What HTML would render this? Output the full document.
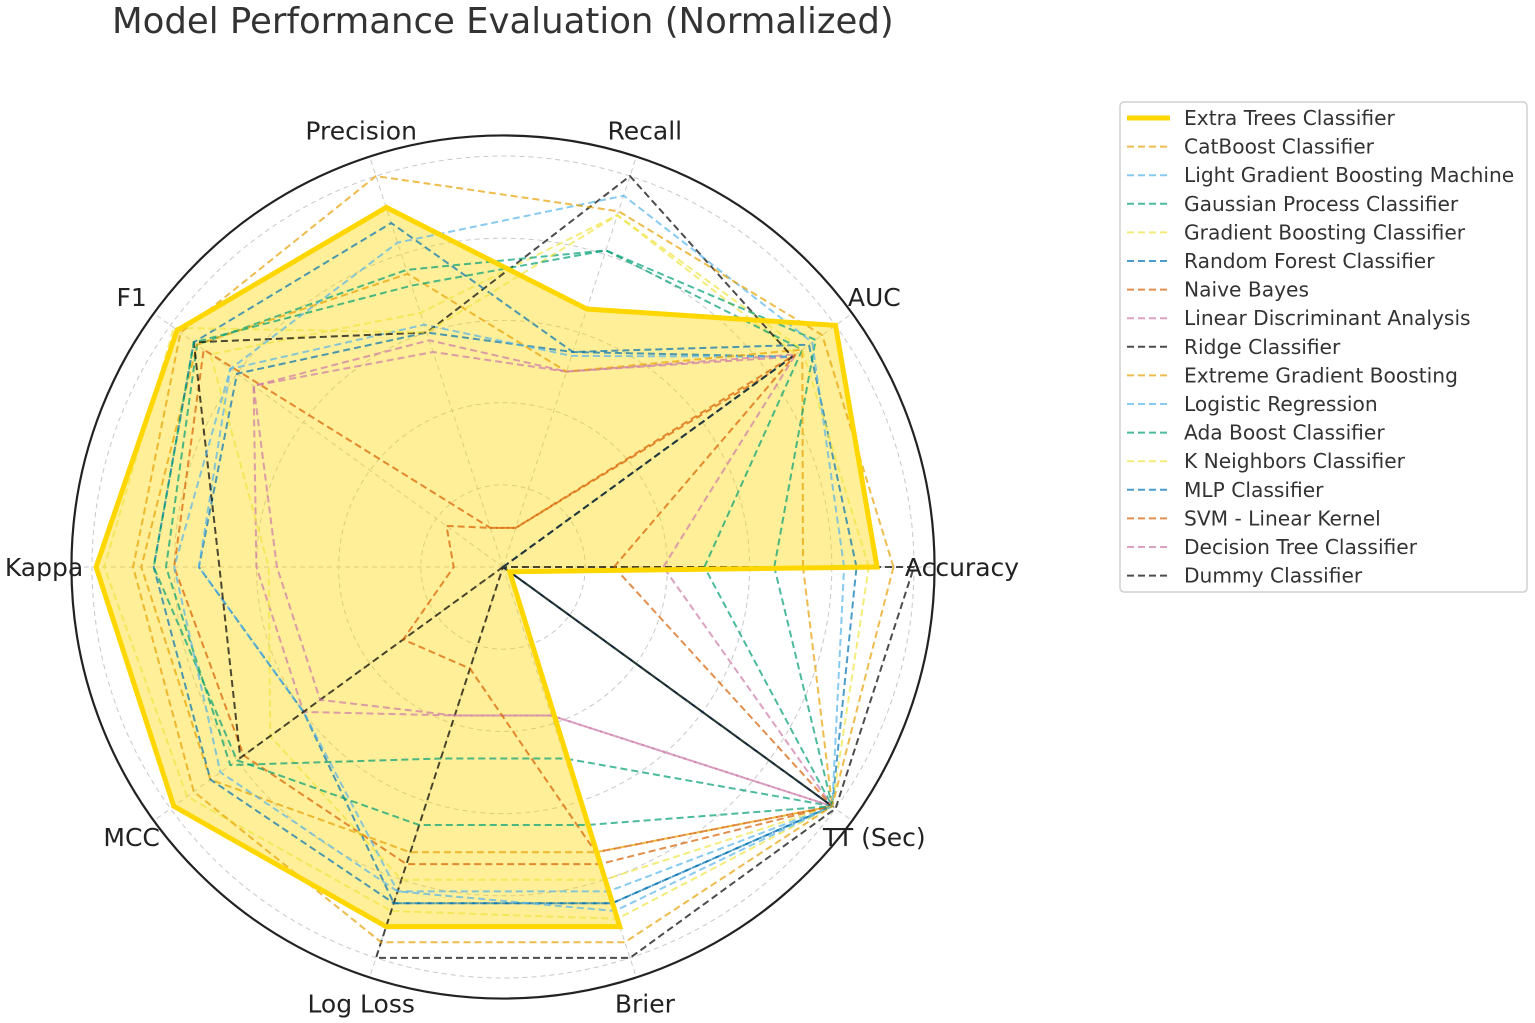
<!DOCTYPE html>
<html><head><meta charset="utf-8"><style>
body{margin:0;background:#fff;}
svg{display:block;font-family:"DejaVu Sans","Liberation Sans",sans-serif;}
</style></head><body>
<svg id="chart" width="1535" height="1023" viewBox="0 0 1535 1023" xmlns="http://www.w3.org/2000/svg">
<text x="112" y="33" font-size="35.5" fill="#333">Model Performance Evaluation (Normalized)</text>
<g id="grid"></g>
<g id="series"></g>
<g id="labels"></g>
<g id="legend"></g>
</svg>
<script>
const axes = ["Accuracy","AUC","Recall","Precision","F1","Kappa","MCC","Log Loss","Brier","TT (Sec)"];
const gridTicks = [0.2,0.4,0.6,0.8,1.0];
const modelNames = ["Extra Trees Classifier","CatBoost Classifier","Light Gradient Boosting Machine","Gaussian Process Classifier","Gradient Boosting Classifier","Random Forest Classifier","Naive Bayes","Linear Discriminant Analysis","Ridge Classifier","Extreme Gradient Boosting","Logistic Regression","Ada Boost Classifier","K Neighbors Classifier","MLP Classifier","SVM - Linear Kernel","Decision Tree Classifier","Dummy Classifier"];
const modelColors = ["#FFD700","#E69F00","#56B4E9","#009E73","#F0E442","#0072B2","#D55E00","#CC79A7","#000000","#E69F00","#56B4E9","#009E73","#F0E442","#0072B2","#D55E00","#CC79A7","#000000"];
const vExtraTrees = [0.91,1.0,0.66,0.92,0.98,0.99,0.99,0.92,0.92,0.02];
const vCatBoost = [0.95,0.96,0.91,1.0,0.97,0.9,0.93,0.96,0.96,0.99];
const vLGBM = [0.83,0.93,0.95,0.83,0.82,0.8,0.85,0.83,0.88,0.99];
const vGaussian = [0.66,0.94,0.81,0.72,0.93,0.85,0.8,0.66,0.66,0.99];
const vGradBoost = [0.89,0.9,0.9,0.6,0.99,0.97,0.95,0.88,0.9,0.99];
const vRandomForest = [0.86,0.92,0.55,0.88,0.93,0.85,0.88,0.86,0.86,0.99];
const vNaiveBayes = [0.27,0.88,0.1,0.1,0.17,0.12,0.3,0.26,0.73,0.99];
const vLDA = [0.39,0.88,0.5,0.58,0.75,0.55,0.55,0.38,0.38,0.99];
const vRidge = [0,0.87,1.0,0.6,0.93,0.69,0.79,0,0,0.99];
const vXGB = [0.73,0.9,0.5,0.75,0.92,0.88,0.88,0.73,0.73,0.99];
const vLogReg = [0,0.87,0.54,0.62,0.82,0.74,0.6,0.83,0.83,0.99];
const vAdaBoost = [0.49,0.9,0.81,0.76,0.92,0.82,0.82,0.49,0.49,0.99];
const vKNN = [0,0.88,0.9,0.65,0.88,0.57,0.7,0.8,0.8,0.99];
const vMLP = [0,0.87,0.55,0.6,0.8,0.74,0.6,0.86,0.86,0.99];
const vSVM = [0,0.8,0.1,0.1,0.9,0.8,0.78,0.76,0.76,0.99];
const vDecisionTree = [0,0.87,0.5,0.55,0.75,0.6,0.6,0.38,0.38,0.99];
const vDummy = [1.0,0,0,0,0,0,0,1.0,1.0,1.0];
const allValues = [vExtraTrees,vCatBoost,vLGBM,vGaussian,vGradBoost,vRandomForest,vNaiveBayes,vLDA,vRidge,vXGB,vLogReg,vAdaBoost,vKNN,vMLP,vSVM,vDecisionTree,vDummy];

const NS="http://www.w3.org/2000/svg";
const cx=503, cy=567, unit=411, rMax=1.05;
function ang(i){return i*2*Math.PI/axes.length;}
function pt(i,v){const a=ang(i);return [cx+Math.cos(a)*v*unit, cy-Math.sin(a)*v*unit];}
function mk(tag,attrs,parent){const e=document.createElementNS(NS,tag);for(const k in attrs)e.setAttribute(k,attrs[k]);parent.appendChild(e);return e;}

const grid=document.getElementById('grid');
gridTicks.forEach(t=>{
  const c=mk('circle',{cx:cx,cy:cy,r:t*unit,fill:'none',stroke:'#c8c8c8','stroke-width':1,'stroke-dasharray':'5,4'},grid);
  
  
});
axes.forEach((a,i)=>{
  const p=pt(i,rMax);
  const l=mk('line',{x1:cx,y1:cy,x2:p[0],y2:p[1],stroke:'#c8c8c8','stroke-width':1,'stroke-dasharray':'5,4'},grid);
  
  
});

const ser=document.getElementById('series');
const etPts=vExtraTrees.map((v,i)=>pt(i,v).map(n=>n.toFixed(1)).join(',')).join(' ');
const etFill=mk('polygon',{points:etPts,fill:'#FFD700','fill-opacity':0.4,stroke:'none'},ser);


for(let s=allValues.length-1;s>=1;s--){
  const pts=allValues[s].map((v,i)=>pt(i,v).map(n=>n.toFixed(1)).join(',')).join(' ');
  const poly=mk('polygon',{points:pts,fill:'none',stroke:modelColors[s],'stroke-opacity':0.7,'stroke-width':2,'stroke-dasharray':'7,4'},ser);
  
  
}
const etLine=mk('polygon',{points:etPts,fill:'none',stroke:'#FFD700','stroke-width':5,'stroke-linejoin':'miter'},ser);



const outer=mk('circle',{cx:cx,cy:cy,r:rMax*unit,fill:'none',stroke:'#222','stroke-width':2.2},ser);



const lab=document.getElementById('labels');
axes.forEach((a,i)=>{
  const aa=ang(i);
  const x=cx+Math.cos(aa)*459, y=cy-Math.sin(aa)*459;
  const t=mk('text',{x:x,y:y+9,'font-size':25,fill:'#222','text-anchor':'middle'},lab);
  t.textContent=a;
  
  
});

const leg=document.getElementById('legend');
const box=mk('rect',{x:1120,y:102,width:407,height:490,rx:4,fill:'#fff',stroke:'#d0d0d0','stroke-width':1.5},leg);


modelNames.forEach((n,i)=>{
  const y=118+i*28.6;
  const ln=mk('line',{x1:1127,y1:y,x2:1170,y2:y,stroke:modelColors[i],'stroke-width':i===0?5:2,'stroke-opacity':i===0?1:0.7,'stroke-dasharray':i===0?'none':'7,4'},leg);
  
  
  const t=mk('text',{x:1184,y:y+7,'font-size':20.2,fill:'#333'},leg);
  t.textContent=n;
  
  
});
</script>
</body></html>
